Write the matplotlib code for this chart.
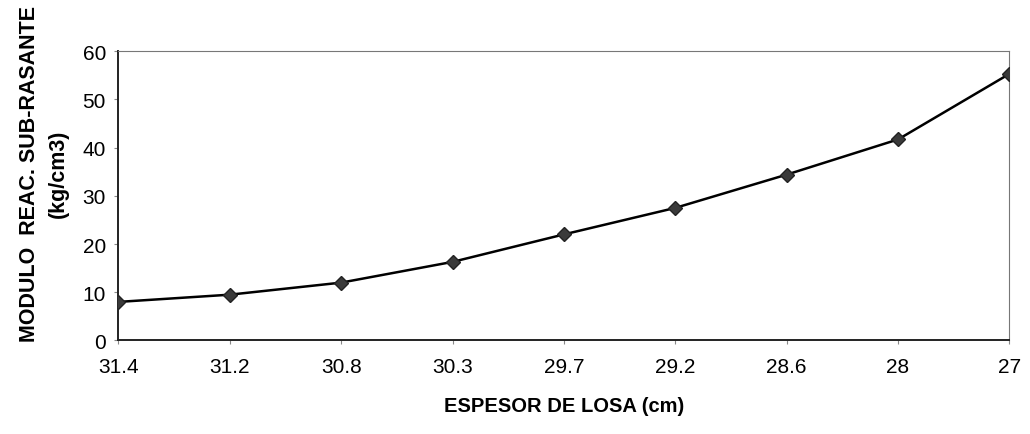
import matplotlib.pyplot as plt

plt.rcParams['font.family'] = ['Liberation Sans', 'DejaVu Sans']

# Datos
espesor = ['31.4', '31.2', '30.8', '30.3', '29.7', '29.2', '28.6', '28', '27']
modulo = [8, 9.5, 12, 16.3, 22, 27.5, 34.4, 41.7, 55.3]
y_ticks = [0, 10, 20, 30, 40, 50, 60]

fig = plt.figure(figsize=(10.3, 4.35), dpi=100)
ax = fig.add_axes([0.115, 0.215, 0.865, 0.665])

x = list(range(len(espesor)))
ax.plot(x, modulo, color='black', linewidth=1.8, marker='D', markersize=7,
        markerfacecolor='#3a3a3a', markeredgecolor='#222222', zorder=3)

ax.set_xlim(0, len(espesor) - 1)
ax.set_ylim(0, 60)
ax.set_xticks(x)
ax.set_xticklabels(espesor)
ax.set_yticks(y_ticks)
ax.tick_params(axis='both', labelsize=15, length=3, color='#888888')
ax.tick_params(axis='x', pad=9)
ax.tick_params(axis='y', pad=6)

for side in ['left', 'bottom']:
    ax.spines[side].set_linewidth(1.4)
    ax.spines[side].set_color('#222222')
for side in ['top', 'right']:
    ax.spines[side].set_linewidth(0.8)
    ax.spines[side].set_color('#777777')

ax.set_xlabel('ESPESOR DE LOSA (cm)', fontsize=14.5, fontweight='bold', labelpad=14)
ax.set_ylabel('MODULO  REAC. SUB-RASANTE\n(kg/cm3)', fontsize=15.5, fontweight='bold',
              linespacing=1.45)
ax.yaxis.set_label_coords(-0.056, 0.58)

fig.savefig('out.png', dpi=100, facecolor='white')
